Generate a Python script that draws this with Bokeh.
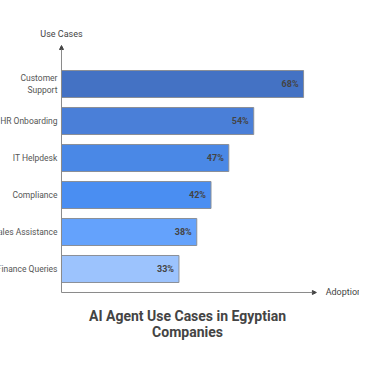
from bokeh.plotting import figure
from bokeh.models import Range1d, Arrow, NormalHead, ColumnDataSource
from bokeh.core.properties import value
from bokeh.embed import file_html
from bokeh.resources import INLINE

categories = ["Customer\nSupport", "HR Onboarding", "IT Helpdesk", "Compliance", "Sales Assistance", "Finance Queries"]
adoption = [68, 54, 47, 42, 38, 33]
labels = ["68%", "54%", "47%", "42%", "38%", "33%"]
colors = ["#4472c4", "#4a7fd8", "#4a88e6", "#4a8ef2", "#64a2fc", "#9cc3fd"]

n = len(categories)
ypos = [n - 1 - i for i in range(n)]

src = ColumnDataSource(dict(y=ypos, x=adoption, cat=categories, lab=labels, color=colors))

FONT = value("Roboto")
p = figure(width=359, height=350, output_backend="svg", toolbar_location=None,
           x_range=Range1d(-17.13, 83.71), y_range=Range1d(-2.203, 7.257),
           min_border=0, outline_line_color=None)
p.axis.visible = False
p.grid.visible = False
p.background_fill_color = "white"

p.hbar(y="y", right="x", left=0, height=0.73, fill_color="color", line_color="#8a8f98",
       line_width=1, source=src)

p.text(x="x", y="y", text="lab", source=src, x_offset=-5, text_align="right",
       text_baseline="middle", text_font=FONT, text_font_style="bold",
       text_font_size="9px", text_color="#444444")

p.text(x=0, y="y", text="cat", source=src, x_offset=-4, text_align="right",
       text_baseline="middle", text_font=FONT, text_font_size="8.5px",
       text_color="#555555", text_line_height=1.2)

ax_col = "#8a8a8a"
p.add_layout(Arrow(x_start=0, y_start=-0.635, x_end=0, y_end=6.04, line_color=ax_col,
                   line_width=1, end=NormalHead(size=4, line_color="#444444", fill_color="#444444")))
p.add_layout(Arrow(x_start=0, y_start=-0.635, x_end=71.6, y_end=-0.635, line_color=ax_col,
                   line_width=1, end=NormalHead(size=4, line_color="#444444", fill_color="#444444")))

p.text(x=[0], y=[6.34], text=["Use Cases"], text_align="center", text_baseline="middle",
       text_font=FONT, text_font_size="9px", text_color="#444444")
p.text(x=[74.2], y=[-0.635], text=["Adoption Rate"], text_align="left", text_baseline="middle",
       text_font=FONT, text_font_size="9px", text_color="#444444")

p.text(x=[35.4, 35.4], y=[-1.257, -1.716], text=["AI Agent Use Cases in Egyptian", "Companies"],
       text_align="center", text_baseline="middle", text_font=FONT, text_font_style="bold",
       text_font_size="14px", text_color="#444444")

open("out.html", "w").write(file_html(p, INLINE))
